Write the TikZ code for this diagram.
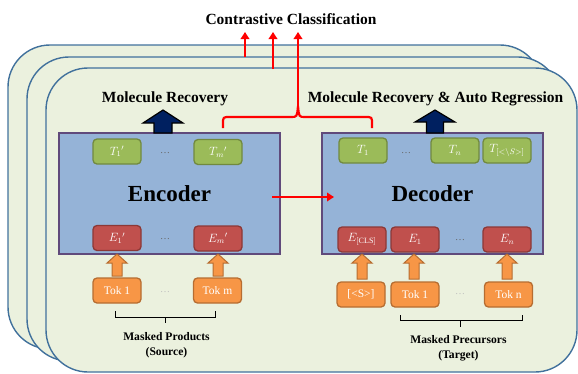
\documentclass[tikz,border=0pt]{standalone}
\usepackage{fontspec}
\setmainfont{Liberation Serif}
\usetikzlibrary{arrows.meta}
\definecolor{panelfill}{HTML}{EBF1DE}
\definecolor{panelline}{HTML}{41719C}
\definecolor{boxfill}{HTML}{95B3D7}
\definecolor{boxline}{HTML}{604A7B}
\definecolor{tfill}{HTML}{9BBB59}
\definecolor{tline}{HTML}{71893F}
\definecolor{efill}{HTML}{C0504D}
\definecolor{eline}{HTML}{8C3836}
\definecolor{okfill}{HTML}{F79646}
\definecolor{okline}{HTML}{B66D31}
\definecolor{navyfill}{HTML}{002060}
\newcommand{\blockup}[7]{% style, cx, ybottom, ybase, ytop, stemhalf, headhalf
  \draw[#1] ({#2-#6},#3) -- ({#2-#6},#4) -- ({#2-#7},#4) -- (#2,#5) -- ({#2+#7},#4) -- ({#2+#6},#4) -- ({#2+#6},#3) -- cycle;}
\tikzset{
  panel/.style={draw=panelline, fill=panelfill, line width=1.4pt, rounded corners=42pt},
  bigbox/.style={draw=boxline, fill=boxfill, line width=1.2pt, rectangle, inner sep=0pt, font=\fontsize{23}{27}\selectfont\bfseries},
  smallbox/.style={rectangle, rounded corners=4pt, line width=1.3pt, minimum width=48pt, minimum height=25pt, inner sep=0pt, text=white, font=\fontsize{11.5}{13}\selectfont},
  tbox/.style={smallbox, draw=tline, fill=tfill},
  ebox/.style={smallbox, draw=eline, fill=efill},
  tokbox/.style={smallbox, draw=okline, fill=okfill},
  redline/.style={draw=red, line width=2.2pt},
  redarrow/.style={redline, -{Triangle[length=7pt,width=8.5pt]}},
  uparr/.style={fill=okfill, draw=okline, line width=1pt, line join=miter},
  navyarr/.style={fill=navyfill, draw=black, line width=1.2pt, line join=miter},
  heading/.style={font=\fontsize{15.5}{18}\selectfont\bfseries, inner sep=0pt},
  caption/.style={font=\fontsize{11.6}{15}\selectfont\bfseries, align=center, inner sep=0pt},
  dotsin/.style={text=black!60, font=\fontsize{10}{12}\selectfont, inner sep=0pt},
  dotsout/.style={text=black!25, font=\fontsize{10}{12}\selectfont, inner sep=0pt},
  bracket/.style={draw=black, line width=1pt}
}
\begin{document}
\begin{tikzpicture}[x=1pt,y=-1pt]
\useasboundingbox (0,0) rectangle (578,373);
% stacked panels
\draw[panel] (8,45) rectangle (542,349);
\draw[panel] (27,57) rectangle (560,361);
\coordinate (p1) at (245,57);
\draw[redarrow] (p1) -- (245,32);
\draw[panel] (46,68) rectangle (577,372);
\coordinate (p2) at (273,69);
\draw[redarrow] (p2) -- (273,32);

% headings
\node[heading] (cc) at (291,19) {Contrastive Classification};
\node[heading] (mr) at (165,99) {Molecule Recovery};
\node[heading] (mra) at (435.5,99) {Molecule Recovery \& Auto Regression};

% encoder / decoder
\node[bigbox, minimum width=221pt, minimum height=121pt] (enc) at (169.5,193.5) {Encoder};
\node[bigbox, minimum width=221pt, minimum height=121pt] (dec) at (432.5,193.5) {Decoder};

% navy arrows
\blockup{navyarr}{163}{133}{123}{110}{9}{20}
\blockup{navyarr}{435}{133}{122}{110}{8.5}{20}

% encoder T and E boxes
\node[tbox] (t1p) at (117,151.5) {$T_1{}'$};
\node[tbox] (tmp) at (218,152) {$T_m{}'$};
\node[dotsin] (etd) at (165,153) {\ldots};
\node[ebox] (e1p) at (117,238) {$E_1{}'$};
\node[ebox] (emp) at (218,238.5) {$E_m{}'$};
\node[dotsin] (eed) at (165,239) {\ldots};

% decoder T and E boxes
\node[tbox] (t1) at (363,150.5) {$T_1$};
\node[tbox] (tn) at (455,150.5) {$T_n$};
\node[tbox] (ts) at (507,150.5) {$T_{[<\backslash S>]}$};
\node[dotsin] (dtd) at (406,153) {\ldots};
\node[ebox] (ecls) at (362,239.5) {$E_{[\mathrm{CLS}]}$};
\node[ebox] (e1) at (415,239.5) {$E_1$};
\node[ebox] (en) at (507,239.5) {$E_n$};
\node[dotsin] (ded) at (460,240) {\ldots};

% token boxes
\node[tokbox] (tok1p) at (117,290.5) {Tok 1};
\node[tokbox] (tokm) at (217.5,290.5) {Tok m};
\node[dotsout] (etokd) at (165,292) {\ldots};
\node[tokbox] (toks) at (361,294.5) {[<S>]};
\node[tokbox] (tok1) at (415,294.5) {Tok 1};
\node[tokbox] (tokn) at (508.5,294.5) {Tok n};
\node[dotsout] (dtokd) at (460,294) {\ldots};

% orange arrows
\blockup{uparr}{117}{276}{263}{254}{5}{10}
\blockup{uparr}{218}{276}{263}{254}{5}{10}
\blockup{uparr}{362}{279}{263}{254}{5}{10}
\blockup{uparr}{414}{279}{263}{254}{5}{10}
\blockup{uparr}{507}{279}{263}{254}{5}{10}

% encoder -> decoder
\coordinate (ea) at (272,197);
\coordinate (da) at (334,197);
\draw[redarrow] (ea) -- (da);

% red brace to contrastive classification
\coordinate (bl) at (223,128);
\coordinate (br) at (372,128);
\coordinate (peak) at (298,106);
\draw[redline] (bl) -- (223,124) .. controls (223,117) .. (230,117) -- (291,117)
  .. controls (297,117) .. (peak) .. controls (299,117) .. (305,117) -- (365,117)
  .. controls (372,117) .. (372,124) -- (br);
\draw[redarrow] (peak) -- (298,32);

% brackets
\draw[bracket] (115,311) -- (115,317) -- (215,317) -- (215,311);
\draw[bracket] (165,317) -- (165,323);
\draw[bracket] (400,315) -- (400,320) -- (522,320) -- (522,315);
\draw[bracket] (460,320) -- (460,327);

\node[caption] (src) at (166.5,345.5) {Masked Products\\(Source)};
\node[caption] (tgt) at (458.5,348.5) {Masked Precursors\\(Target)};
\end{tikzpicture}
\end{document}
